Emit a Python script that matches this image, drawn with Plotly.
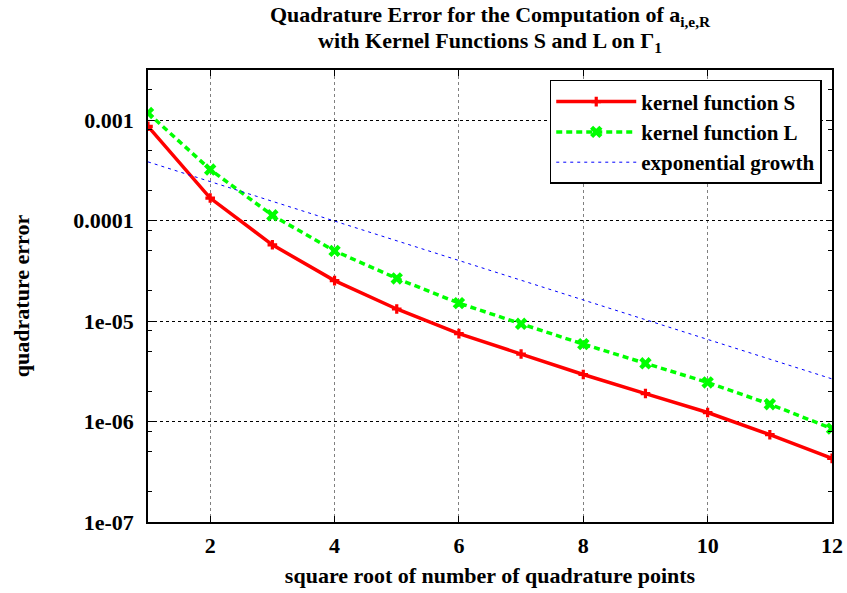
import plotly.graph_objects as go

x_pts = [1, 2, 3, 4, 5, 6, 7, 8, 9, 10, 11, 12]
err_S = [8.7e-4, 1.68e-4, 5.75e-5, 2.53e-5, 1.32e-5, 7.5e-6, 4.7e-6, 2.94e-6, 1.9e-6, 1.23e-6, 7.4e-7, 4.3e-7]
err_L = [1.18e-3, 3.23e-4, 1.13e-4, 5.0e-5, 2.66e-5, 1.51e-5, 9.4e-6, 5.9e-6, 3.8e-6, 2.45e-6, 1.49e-6, 8.5e-7]
exp_x = [1, 12]
exp_y = [3.85e-4, 2.66e-6]

y_tickvals = [1e-3, 1e-4, 1e-5, 1e-6, 1e-7]
y_ticktext = ["0.001", "0.0001", "1e-05", "1e-06", "1e-07"]
y_minor = [m * 10 ** e for e in range(-7, -2) for m in (2, 5, 8)]
x_tickvals = [2, 4, 6, 8, 10, 12]

title_line1 = "Quadrature Error for the Computation of a<sub>i,e,R</sub>"
title_line2 = "with Kernel Functions S and L on &#915;<sub>1</sub>"

FONT = "Liberation Serif"
FS = 22

def f(size=FS):
    return dict(family=FONT, size=size, color="black", weight="bold")

fig = go.Figure()
fig.add_trace(go.Scatter(
    x=x_pts, y=err_S, mode="lines+markers", name="kernel function S",
    line=dict(color="#ff0000", width=3.5),
    marker=dict(symbol="cross", size=8, color="#ff0000"),
))
fig.add_trace(go.Scatter(
    x=x_pts, y=err_L, mode="lines+markers", name="kernel function L",
    line=dict(color="#00ff00", width=3.5, dash="6px,4px"),
    marker=dict(symbol="x", size=11, color="#00ff00"),
))
fig.add_trace(go.Scatter(
    x=exp_x, y=exp_y, mode="lines", name="exponential growth",
    line=dict(color="#0000ff", width=1, dash="3px,4px"),
))

axis_common = dict(
    showline=True, linecolor="black", linewidth=1.5, mirror="allticks",
    ticks="inside", ticklen=6, tickcolor="black",
    tickfont=f(),
    showgrid=True, griddash="dot", gridwidth=1,
    zeroline=False,
)

fig.update_layout(
    width=847, height=593,
    margin=dict(l=148, r=15, t=70, b=71, autoexpand=False),
    paper_bgcolor="white", plot_bgcolor="white",
    font=dict(family=FONT, color="black", weight="bold"),
    xaxis=dict(
        range=[1, 12], tickvals=x_tickvals, gridcolor="#808080",
        ticklabelstandoff=3,
        title=dict(text="square root of number of quadrature points", font=f(), standoff=10),
        automargin=False,
        **axis_common,
    ),
    yaxis=dict(
        type="log", range=[-7, -2.5], tickvals=y_tickvals, ticktext=y_ticktext,
        gridcolor="black", ticklabelstandoff=8,
        minor=dict(tickvals=y_minor, ticks="inside", ticklen=4, tickcolor="black", showgrid=False),
        title=dict(text="quadrature error", font=f(), standoff=38),
        automargin=False,
        **axis_common,
    ),
    legend=dict(
        x=0.985, xanchor="right", y=0.978, yanchor="top",
        bgcolor="white", bordercolor="black", borderwidth=1.5,
        font=f(21), tracegroupgap=0, itemwidth=80,
    ),
    showlegend=True,
    annotations=[
        dict(text=title_line1, xref="paper", yref="paper", x=0.5, y=1.12,
             xanchor="center", yanchor="middle", showarrow=False, font=f()),
        dict(text=title_line2, xref="paper", yref="paper", x=0.5, y=1.063,
             xanchor="center", yanchor="middle", showarrow=False, font=f()),
    ],
)

fig.write_html("out.html")
